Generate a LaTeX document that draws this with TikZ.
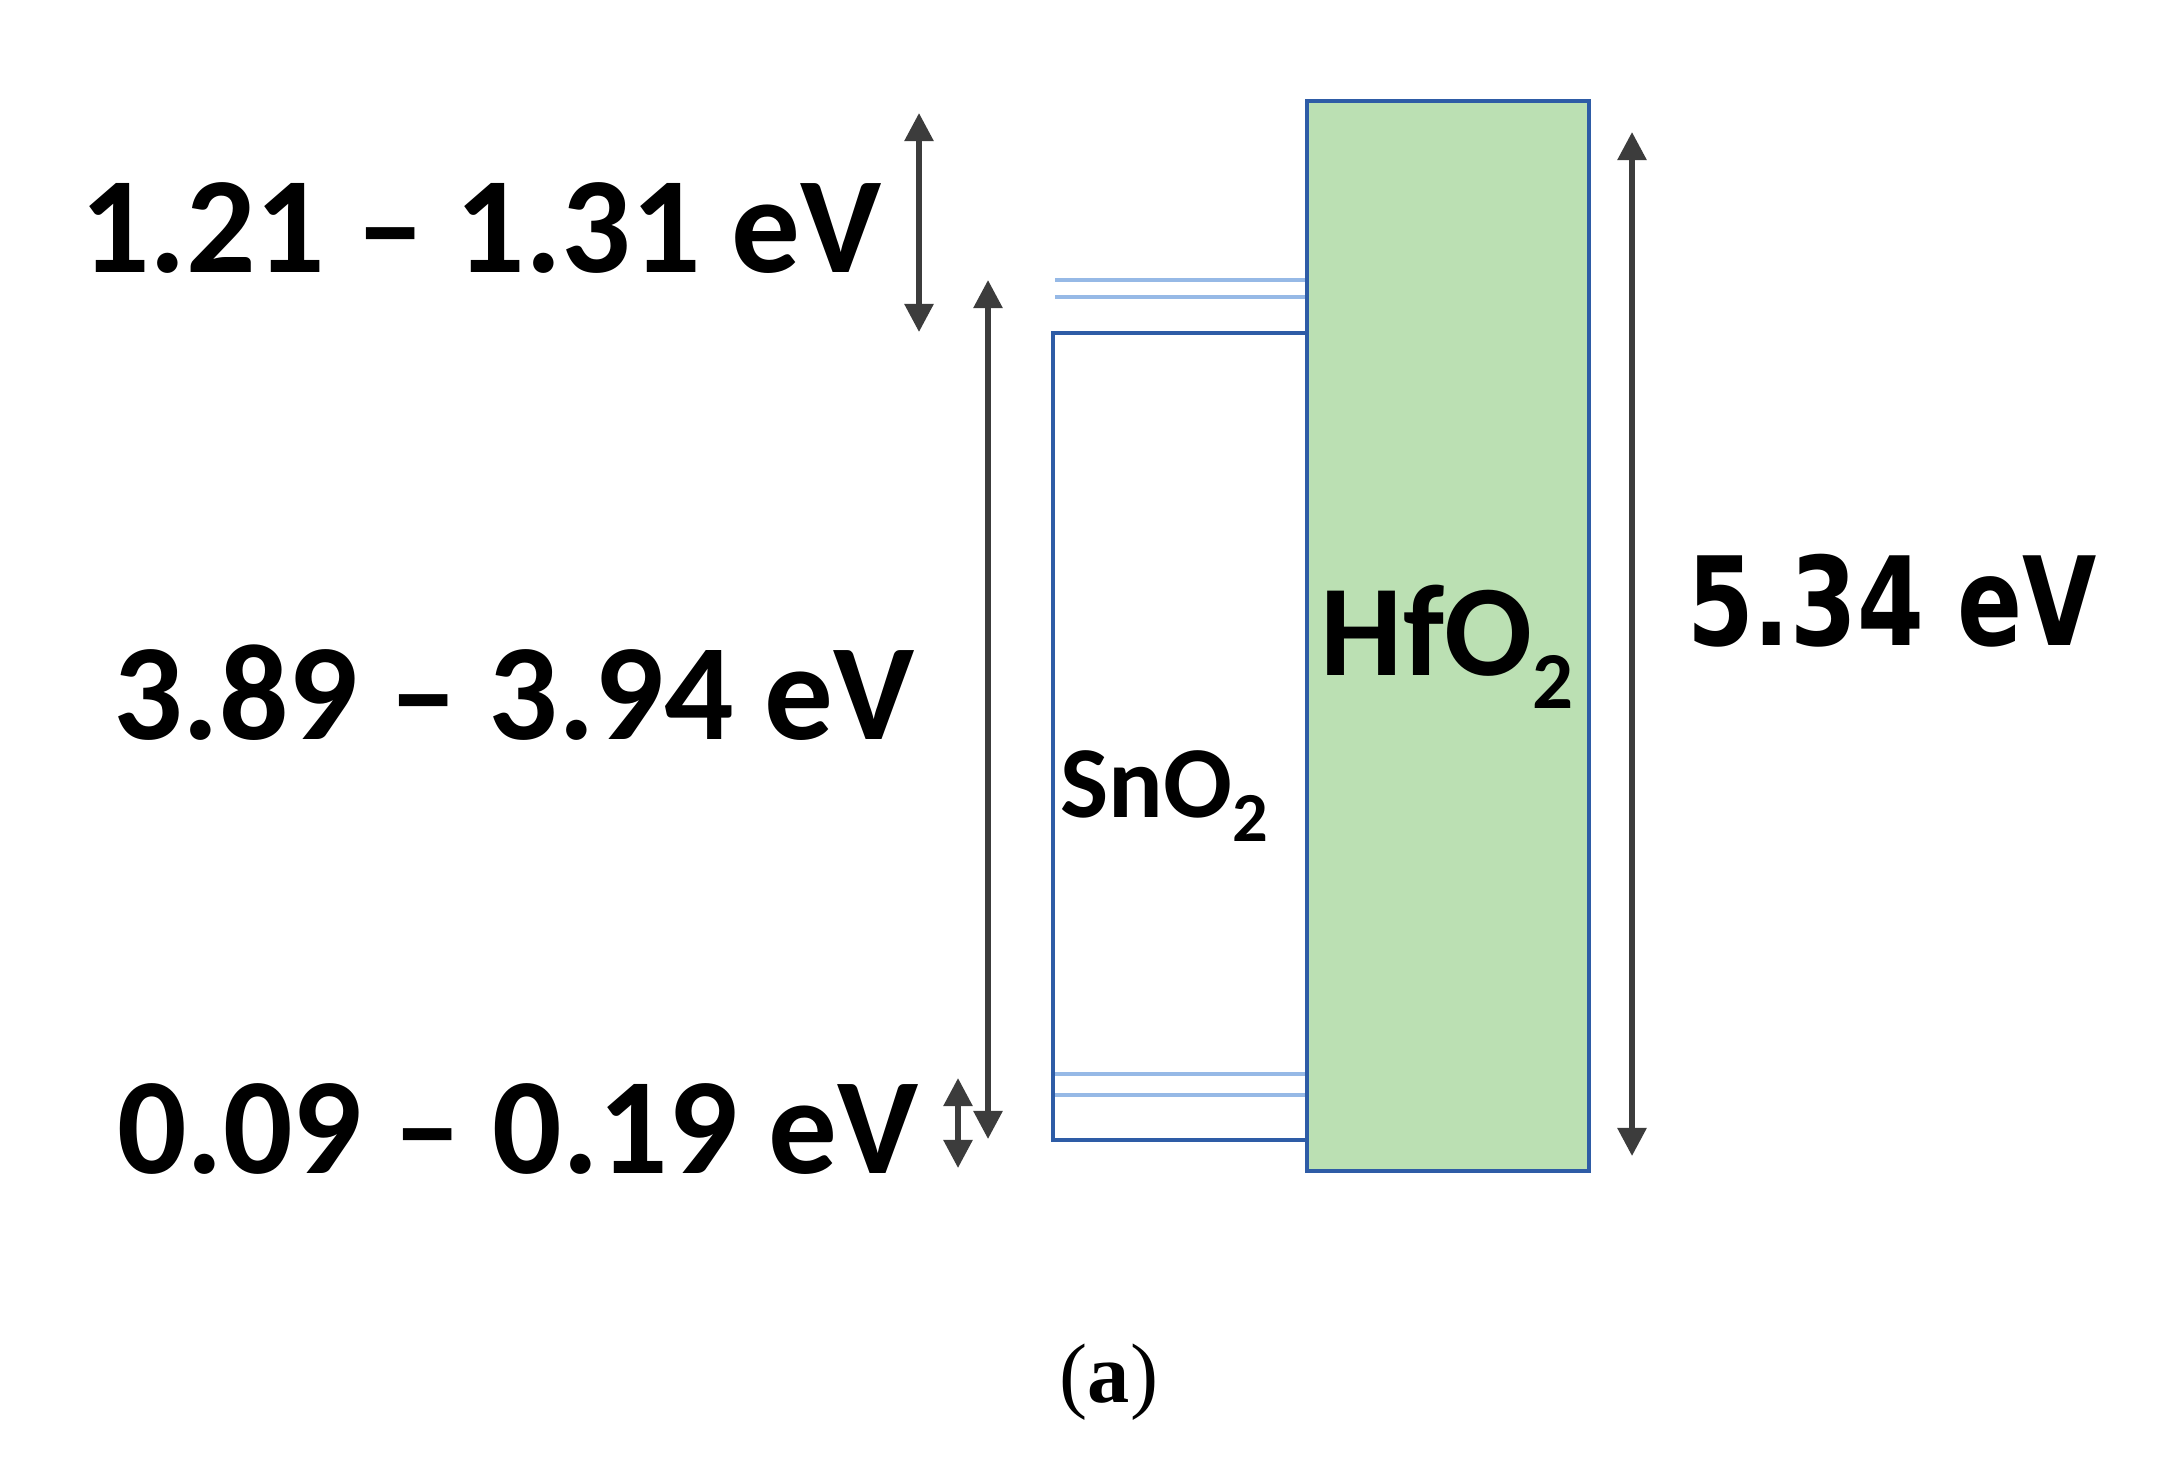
\documentclass[tikz,border=0pt]{standalone}
\usepackage{fontspec}
\setmainfont{Carlito}
\newfontfamily\verdanalike{DejaVu Sans}
\newfontfamily\timeslike{Liberation Serif}
\usetikzlibrary{arrows.meta}
\definecolor{hfgreen}{RGB}{187,224,179}
\definecolor{boxblue}{RGB}{46,92,166}
\definecolor{lightblue}{RGB}{150,185,230}
\definecolor{arrowgray}{RGB}{60,60,60}
\tikzset{
  bandbox/.style={draw=boxblue, line width=1.1pt, inner sep=0pt, outer sep=0pt},
  level/.style={draw=lightblue, line width=0.9pt},
  gaparrow/.style={draw=arrowgray, line width=1.6pt, {Triangle[width=8pt,length=8pt]}-{Triangle[width=8pt,length=8pt]}},
  biglabel/.style={font=\fontsize{39}{46}\selectfont\bfseries, inner sep=0pt, anchor=base},
}
\begin{document}
\begin{tikzpicture}[x=0.01cm, y=-0.01cm]
\fill[white] (0,0) rectangle (2167,1478);
\useasboundingbox (0,0) rectangle (2167,1478);

% SnO2 box
\node (sn) [bandbox, minimum width=2.54cm, minimum height=8.07cm] at (1180,736.5) {};
% defect levels
\coordinate (l1a) at (1055,280); \coordinate (l1b) at (1307,280);
\coordinate (l2a) at (1055,297); \coordinate (l2b) at (1307,297);
\coordinate (l3a) at (1055,1074); \coordinate (l3b) at (1307,1074);
\coordinate (l4a) at (1055,1095); \coordinate (l4b) at (1307,1095);
\draw[level] (l1a) -- (l1b);
\draw[level] (l2a) -- (l2b);
\draw[level] (l3a) -- (l3b);
\draw[level] (l4a) -- (l4b);
% HfO2 box
\node (hf) [bandbox, fill=hfgreen, minimum width=2.82cm, minimum height=10.70cm] at (1448,636) {};

% arrows
\coordinate (a1t) at (919,113);  \coordinate (a1b) at (919,332);
\coordinate (a2t) at (988,280);  \coordinate (a2b) at (988,1139);
\coordinate (a3t) at (958,1078); \coordinate (a3b) at (958,1168);
\coordinate (a4t) at (1632,132); \coordinate (a4b) at (1632,1156);
\draw[gaparrow] (a1t) -- (a1b);
\draw[gaparrow] (a2t) -- (a2b);
\draw[gaparrow] (a3t) -- (a3b);
\draw[gaparrow] (a4t) -- (a4b);

% labels
\node (t1) [biglabel] at (481,272) {1.21 – 1.31 eV};
\node (t2) [biglabel] at (514,739) {3.89 – 3.94 eV};
\node (t3) [biglabel] at (518,1173) {0.09 – 0.19 eV};
\node (t4) [inner sep=0pt, anchor=base] at (1892,645)
  {\scalebox{0.78}[1]{\verdanalike\bfseries\fontsize{35}{42}\selectfont 5.34 eV}};
\node (snl) [inner sep=0pt, anchor=base] at (1164,817)
  {\fontsize{29}{34}\selectfont\bfseries SnO\raisebox{-7pt}{\fontsize{20}{24}\selectfont 2}};
\node (hfl) [inner sep=0pt, anchor=base] at (1447,675)
  {\fontsize{37}{44}\selectfont\bfseries HfO\raisebox{-9.4pt}{\fontsize{23}{28}\selectfont 2}};
\node (cap) [inner sep=0pt, anchor=base] at (1109,1402)
  {\timeslike\fontsize{24}{29}\selectfont (\textbf{a})};
\end{tikzpicture}
\end{document}
